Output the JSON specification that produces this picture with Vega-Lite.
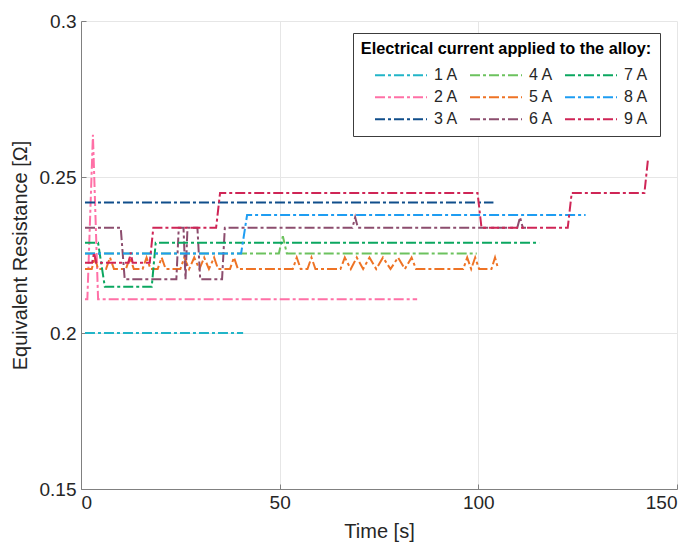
{
  "$schema": "https://vega.github.io/schema/vega-lite/v6.json",
  "width": 596,
  "height": 468,
  "autosize": "none",
  "padding": {"left": 81, "top": 21, "right": 15, "bottom": 55},
  "background": "white",
  "config": {
    "view": {"stroke": null},
    "font": "Liberation Sans",
    "axis": {
      "labelFont": "Liberation Sans",
      "titleFont": "Liberation Sans",
      "labelFontSize": 19,
      "titleFontSize": 20,
      "titleFontWeight": "normal",
      "labelColor": "#262626",
      "titleColor": "#262626",
      "domainColor": "#808080",
      "domainWidth": 1,
      "tickColor": "#808080",
      "tickSize": -5,
      "gridColor": "#e6e6e6",
      "gridWidth": 1
    }
  },
  "data": {
    "values": [
      {"t": 1, "r": 0.2, "s": "1 A"},
      {"t": 40.8, "r": 0.2, "s": "1 A"},

      {"t": 1, "r": 0.2108, "s": "2 A"},
      {"t": 1.6, "r": 0.2108, "s": "2 A"},
      {"t": 3.0, "r": 0.2635, "s": "2 A"},
      {"t": 4.3, "r": 0.2108, "s": "2 A"},
      {"t": 84.6, "r": 0.2108, "s": "2 A"},

      {"t": 1, "r": 0.2418, "s": "3 A"},
      {"t": 103.8, "r": 0.2418, "s": "3 A"},

      {"t": 1, "r": 0.2255, "s": "4 A"},
      {"t": 49.8, "r": 0.2255, "s": "4 A"},
      {"t": 50.8, "r": 0.231, "s": "4 A"},
      {"t": 51.8, "r": 0.2255, "s": "4 A"},
      {"t": 99.6, "r": 0.2255, "s": "4 A"},

      {"t": 1, "r": 0.2205, "s": "5 A"},
      {"t": 2.7, "r": 0.2205, "s": "5 A"},
      {"t": 3.5, "r": 0.2242, "s": "5 A"},
      {"t": 4.3, "r": 0.2205, "s": "5 A"},
      {"t": 6.3, "r": 0.2205, "s": "5 A"},
      {"t": 7.3, "r": 0.2242, "s": "5 A"},
      {"t": 8.3, "r": 0.2205, "s": "5 A"},
      {"t": 11.3, "r": 0.2205, "s": "5 A"},
      {"t": 12.3, "r": 0.2242, "s": "5 A"},
      {"t": 13.3, "r": 0.2205, "s": "5 A"},
      {"t": 15.5, "r": 0.2205, "s": "5 A"},
      {"t": 16.5, "r": 0.2242, "s": "5 A"},
      {"t": 17.5, "r": 0.2205, "s": "5 A"},
      {"t": 19.3, "r": 0.2205, "s": "5 A"},
      {"t": 20.3, "r": 0.2242, "s": "5 A"},
      {"t": 21.3, "r": 0.2205, "s": "5 A"},
      {"t": 25.0, "r": 0.2205, "s": "5 A"},
      {"t": 26.0, "r": 0.2242, "s": "5 A"},
      {"t": 27.2, "r": 0.2205, "s": "5 A"},
      {"t": 28.5, "r": 0.2242, "s": "5 A"},
      {"t": 29.8, "r": 0.2205, "s": "5 A"},
      {"t": 31.0, "r": 0.2242, "s": "5 A"},
      {"t": 32.2, "r": 0.2205, "s": "5 A"},
      {"t": 33.5, "r": 0.2242, "s": "5 A"},
      {"t": 34.5, "r": 0.2205, "s": "5 A"},
      {"t": 37.5, "r": 0.2205, "s": "5 A"},
      {"t": 38.5, "r": 0.2242, "s": "5 A"},
      {"t": 39.5, "r": 0.2205, "s": "5 A"},
      {"t": 53.3, "r": 0.2205, "s": "5 A"},
      {"t": 54.3, "r": 0.2242, "s": "5 A"},
      {"t": 55.3, "r": 0.2205, "s": "5 A"},
      {"t": 57.0, "r": 0.2205, "s": "5 A"},
      {"t": 58.0, "r": 0.2242, "s": "5 A"},
      {"t": 59.0, "r": 0.2205, "s": "5 A"},
      {"t": 65.3, "r": 0.2205, "s": "5 A"},
      {"t": 66.4, "r": 0.2242, "s": "5 A"},
      {"t": 67.9, "r": 0.2205, "s": "5 A"},
      {"t": 69.4, "r": 0.2242, "s": "5 A"},
      {"t": 71.0, "r": 0.2205, "s": "5 A"},
      {"t": 72.6, "r": 0.2242, "s": "5 A"},
      {"t": 74.3, "r": 0.2205, "s": "5 A"},
      {"t": 76.0, "r": 0.2242, "s": "5 A"},
      {"t": 77.9, "r": 0.2205, "s": "5 A"},
      {"t": 79.8, "r": 0.2242, "s": "5 A"},
      {"t": 81.5, "r": 0.2205, "s": "5 A"},
      {"t": 83.2, "r": 0.2242, "s": "5 A"},
      {"t": 84.3, "r": 0.2205, "s": "5 A"},
      {"t": 96.2, "r": 0.2205, "s": "5 A"},
      {"t": 97.2, "r": 0.2242, "s": "5 A"},
      {"t": 98.2, "r": 0.2205, "s": "5 A"},
      {"t": 99.2, "r": 0.2242, "s": "5 A"},
      {"t": 100.2, "r": 0.2205, "s": "5 A"},
      {"t": 103.3, "r": 0.2205, "s": "5 A"},
      {"t": 104.2, "r": 0.2242, "s": "5 A"},
      {"t": 105.0, "r": 0.2205, "s": "5 A"},

      {"t": 1, "r": 0.2337, "s": "6 A"},
      {"t": 10, "r": 0.2337, "s": "6 A"},
      {"t": 11, "r": 0.2172, "s": "6 A"},
      {"t": 24, "r": 0.2172, "s": "6 A"},
      {"t": 24.6, "r": 0.2337, "s": "6 A"},
      {"t": 25.8, "r": 0.2337, "s": "6 A"},
      {"t": 26.3, "r": 0.2172, "s": "6 A"},
      {"t": 26.8, "r": 0.2337, "s": "6 A"},
      {"t": 29.3, "r": 0.2337, "s": "6 A"},
      {"t": 30, "r": 0.2172, "s": "6 A"},
      {"t": 35.5, "r": 0.2172, "s": "6 A"},
      {"t": 36.2, "r": 0.2337, "s": "6 A"},
      {"t": 68.3, "r": 0.2337, "s": "6 A"},
      {"t": 69, "r": 0.2371, "s": "6 A"},
      {"t": 69.7, "r": 0.2337, "s": "6 A"},
      {"t": 109.8, "r": 0.2337, "s": "6 A"},
      {"t": 110.5, "r": 0.2371, "s": "6 A"},
      {"t": 111.2, "r": 0.2337, "s": "6 A"},
      {"t": 112, "r": 0.2337, "s": "6 A"},

      {"t": 1, "r": 0.2289, "s": "7 A"},
      {"t": 4.3, "r": 0.2289, "s": "7 A"},
      {"t": 6, "r": 0.2148, "s": "7 A"},
      {"t": 17.8, "r": 0.2148, "s": "7 A"},
      {"t": 18.8, "r": 0.2289, "s": "7 A"},
      {"t": 115.3, "r": 0.2289, "s": "7 A"},

      {"t": 1, "r": 0.2255, "s": "8 A"},
      {"t": 40.3, "r": 0.2255, "s": "8 A"},
      {"t": 41.8, "r": 0.2378, "s": "8 A"},
      {"t": 127, "r": 0.2378, "s": "8 A"},

      {"t": 1, "r": 0.2225, "s": "9 A"},
      {"t": 2.8, "r": 0.2225, "s": "9 A"},
      {"t": 3.3, "r": 0.2258, "s": "9 A"},
      {"t": 3.8, "r": 0.2225, "s": "9 A"},
      {"t": 12, "r": 0.2225, "s": "9 A"},
      {"t": 12.5, "r": 0.2258, "s": "9 A"},
      {"t": 13, "r": 0.2225, "s": "9 A"},
      {"t": 17.3, "r": 0.2225, "s": "9 A"},
      {"t": 18.2, "r": 0.2337, "s": "9 A"},
      {"t": 34, "r": 0.2337, "s": "9 A"},
      {"t": 35, "r": 0.2449, "s": "9 A"},
      {"t": 99.8, "r": 0.2449, "s": "9 A"},
      {"t": 100.8, "r": 0.2337, "s": "9 A"},
      {"t": 122.5, "r": 0.2337, "s": "9 A"},
      {"t": 123.5, "r": 0.2449, "s": "9 A"},
      {"t": 141.8, "r": 0.2449, "s": "9 A"},
      {"t": 142.7, "r": 0.2557, "s": "9 A"}
    ]
  },
  "mark": {"type": "line", "strokeWidth": 2, "strokeDash": [10, 3, 3, 3], "interpolate": "linear"},
  "encoding": {
    "x": {
      "field": "t",
      "type": "quantitative",
      "title": "Time [s]",
      "scale": {"domain": [0, 150], "nice": false, "zero": false},
      "axis": {"values": [0, 50, 100, 150], "format": "d", "labelPadding": 9, "titlePadding": 9}
    },
    "y": {
      "field": "r",
      "type": "quantitative",
      "title": "Equivalent Resistance [Ω]",
      "scale": {"domain": [0.15, 0.3], "nice": false, "zero": false},
      "axis": {"values": [0.15, 0.2, 0.25, 0.3], "format": "~g", "labelPadding": 10, "titlePadding": 9}
    },
    "color": {
      "field": "s",
      "type": "nominal",
      "scale": {
        "domain": ["1 A", "2 A", "3 A", "4 A", "5 A", "6 A", "7 A", "8 A", "9 A"],
        "range": ["#22B5C8", "#FF70A6", "#104E8B", "#6CC25E", "#EE7325", "#8C4D6E", "#0BA760", "#1E9DF2", "#CF2556"]
      },
      "legend": {
        "orient": "none",
        "direction": "vertical",
        "legendX": 272,
        "legendY": 12,
        "title": "Electrical current applied to the alloy:",
        "titleFont": "Liberation Sans",
        "titleFontSize": 16.3,
        "titleFontWeight": "bold",
        "titleColor": "#000000",
        "titleAnchor": "middle",
        "titleLimit": 400,
        "titlePadding": 10,
        "columns": 3,
        "columnPadding": 0,
        "rowPadding": 6,
        "labelFont": "Liberation Sans",
        "labelFontSize": 16,
        "labelColor": "#262626",
        "symbolType": "M-5.2,0L5.2,0",
        "symbolSize": 100,
        "symbolStrokeWidth": 2,
        "symbolDash": [10, 3, 3, 3],
        "symbolOffset": 29,
        "labelOffset": 25,
        "strokeColor": "#3c3c3c",
        "fillColor": "white",
        "padding": 8
      }
    },
    "order": {"field": "t", "type": "quantitative"}
  }
}
